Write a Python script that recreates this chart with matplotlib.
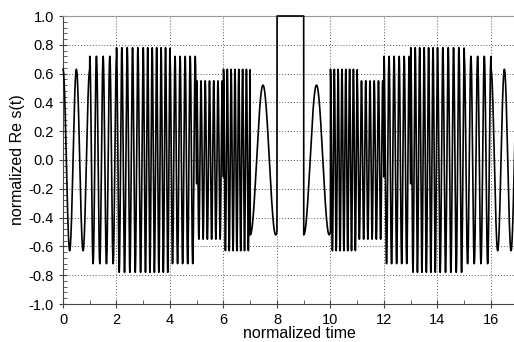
import numpy as np
import matplotlib
matplotlib.use('Agg')
import matplotlib.pyplot as plt
from matplotlib.ticker import MultipleLocator, FormatStrFormatter

plt.rcParams['font.family'] = ['Liberation Sans', 'DejaVu Sans']

# one entry per unit-length time segment 0..16
seg_start = [0, 1, 2, 3, 4, 5, 6, 7, 8, 9, 10, 11, 12, 13, 14, 15, 16]
seg_amp = [0.63, 0.72, 0.78, 0.78, 0.72, 0.55, 0.63, 0.52, 1.0,
           0.52, 0.63, 0.55, 0.72, 0.78, 0.78, 0.72, 0.63]
seg_freq = [2, 4, 5, 6, 5.3, 6.3, 7, 1.05, 0,
            1.05, 7, 6.3, 5.3, 6, 5, 4, 2]
seg_phase = [0, 0, 0, 0, 0, 0, 0, np.pi, 0,
             np.pi, 0, 0, 0, 0, 0, 0, 0]

t_all = []
s_all = []
for t0, a, f, ph in zip(seg_start, seg_amp, seg_freq, seg_phase):
    t = np.linspace(t0, t0 + 1, 400, endpoint=False)
    t_all.append(t)
    s_all.append(a * np.cos(2 * np.pi * f * (t - t0) + ph))
t_all = np.concatenate(t_all)
s_all = np.concatenate(s_all)

fig = plt.figure(figsize=(5.14, 3.42), dpi=100)
ax = fig.add_axes([63 / 514, 38 / 342, 451 / 514, 288 / 342])
ax.plot(t_all, s_all, color='black', lw=1.2, clip_on=False, zorder=3)

ax.set_xlim(0, 16.86)
ax.set_ylim(-1.0, 1.0)
ax.xaxis.set_major_locator(MultipleLocator(2))
ax.xaxis.set_minor_locator(MultipleLocator(1))
ax.yaxis.set_major_locator(MultipleLocator(0.2))
ax.yaxis.set_minor_locator(MultipleLocator(0.04))
ax.yaxis.set_major_formatter(FormatStrFormatter('%.1f'))
ax.grid(True, which='major', color='#555555', ls=(0, (1, 2)), lw=0.7)

for side in ['left', 'bottom']:
    ax.spines[side].set_color('#444444')
ax.spines['right'].set_visible(False)
ax.spines['top'].set_color('#999999')
ax.tick_params(which='major', direction='inout', length=6, color='#444444',
               labelsize=10.5)
ax.tick_params(which='minor', direction='in', length=3, color='#444444')

ax.set_xlabel('normalized time', fontsize=11.5)
ax.xaxis.set_label_coords(0.525, -0.075)
ax.set_ylabel('normalized Re s(t)', fontsize=11.5, labelpad=3)

fig.savefig('out.png', dpi=100)
